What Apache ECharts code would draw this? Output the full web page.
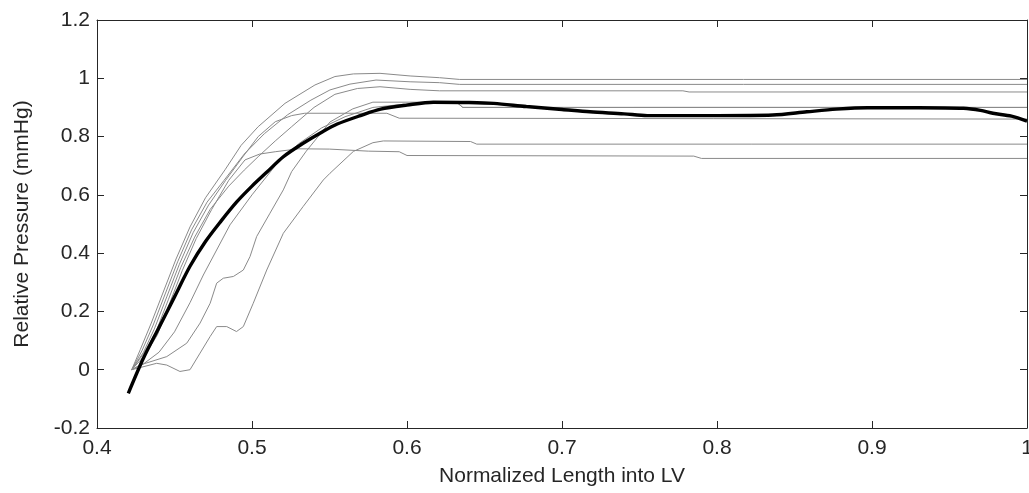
<!DOCTYPE html>
<html>
<head>
<meta charset="utf-8">
<script src="https://cdn.jsdelivr.net/npm/echarts@6/dist/echarts.min.js"></script>
<style>html,body{margin:0;padding:0;background:#fff;overflow:hidden}#c{width:1029px;height:493px}</style>
</head>
<body>
<div id="c"></div>
<script>
// Axis ticks
const xTicks = [0.4, 0.5, 0.6, 0.7, 0.8, 0.9, 1.0];
const yTicks = [-0.2, 0, 0.2, 0.4, 0.6, 0.8, 1.0, 1.2];

// Mean curve (thick black)
const meanCurve = [[0.4202,-0.081],[0.43,0.04],[0.44,0.145],[0.45,0.25],[0.46,0.355],[0.47,0.44],[0.48,0.51],[0.49,0.575],[0.50,0.63],[0.51,0.68],[0.52,0.73],[0.533,0.777],[0.545,0.815],[0.555,0.843],[0.57,0.872],[0.583,0.894],[0.60,0.908],[0.617,0.918],[0.64,0.917],[0.656,0.914],[0.677,0.903],[0.70,0.893],[0.718,0.885],[0.74,0.878],[0.755,0.872],[0.80,0.872],[0.836,0.874],[0.858,0.885],[0.877,0.894],[0.897,0.899],[0.93,0.899],[0.959,0.897],[0.97,0.89],[0.978,0.88],[0.99,0.87],[1.0,0.853]];

// Individual curves (thin gray)
const curveA = [[0.4224,0],[0.428,0.07],[0.435,0.16],[0.443,0.27],[0.451,0.38],[0.46,0.49],[0.47,0.59],[0.4826,0.686],[0.493,0.77],[0.504,0.834],[0.5213,0.914],[0.5406,0.977],[0.5535,1.006],[0.5654,1.015],[0.5826,1.017],[0.602,1.008],[0.621,1.002],[0.634,0.996],[1.0,0.996]];
const curveB = [[0.4224,0],[0.429,0.065],[0.436,0.15],[0.444,0.26],[0.452,0.37],[0.461,0.48],[0.471,0.575],[0.482,0.65],[0.495,0.74],[0.508,0.81],[0.523,0.875],[0.538,0.925],[0.5503,0.96],[0.5632,0.98],[0.58,0.994],[0.602,0.988],[0.621,0.985],[0.634,0.979],[1.0,0.979]];
const curveC = [[0.4224,0],[0.43,0.055],[0.438,0.13],[0.446,0.24],[0.454,0.35],[0.463,0.455],[0.473,0.55],[0.485,0.63],[0.495,0.685],[0.504,0.731],[0.515,0.785],[0.5256,0.834],[0.54,0.90],[0.5535,0.945],[0.568,0.965],[0.5826,0.971],[0.602,0.962],[0.621,0.957],[0.778,0.957],[0.782,0.953],[1.0,0.953]];
const curveD = [[0.4224,0],[0.4277,0.016],[0.445,0.045],[0.4579,0.091],[0.4665,0.16],[0.473,0.228],[0.4772,0.297],[0.4815,0.314],[0.488,0.32],[0.4944,0.342],[0.4987,0.388],[0.503,0.457],[0.5116,0.537],[0.5202,0.617],[0.5256,0.68],[0.535,0.75],[0.5503,0.85],[0.565,0.895],[0.578,0.918],[0.632,0.918],[0.636,0.90],[1.0,0.90]];
const curveE = [[0.4224,0],[0.43,0.06],[0.437,0.14],[0.445,0.25],[0.453,0.36],[0.462,0.47],[0.472,0.565],[0.483,0.65],[0.494,0.73],[0.504,0.80],[0.515,0.851],[0.5256,0.872],[0.534,0.88],[0.587,0.88],[0.595,0.863],[1.0,0.86]];
const curveF = [[0.4224,0],[0.4385,0.022],[0.445,0.016],[0.4535,-0.006],[0.46,0.0],[0.4665,0.057],[0.473,0.114],[0.4772,0.148],[0.4837,0.148],[0.49,0.131],[0.4944,0.148],[0.5008,0.228],[0.5095,0.342],[0.5202,0.468],[0.533,0.56],[0.546,0.651],[0.5503,0.674],[0.5654,0.749],[0.578,0.779],[0.5847,0.785],[0.641,0.783],[0.645,0.774],[1.0,0.774]];
const curveG = [[0.4224,0],[0.431,0.05],[0.439,0.12],[0.447,0.23],[0.455,0.34],[0.464,0.45],[0.474,0.55],[0.485,0.65],[0.4955,0.72],[0.505,0.74],[0.515,0.748],[0.53,0.758],[0.55,0.757],[0.575,0.75],[0.595,0.748],[0.6,0.735],[0.785,0.733],[0.79,0.725],[1.0,0.725]];
const curveH = [[0.4224,0],[0.43,0.02],[0.44,0.06],[0.45,0.13],[0.46,0.23],[0.4686,0.325],[0.4858,0.497],[0.50,0.60],[0.515,0.70],[0.53,0.775],[0.545,0.83],[0.56,0.868],[0.578,0.9],[0.60,0.912],[0.632,0.918],[0.636,0.90],[1.0,0.90]];

const grayCurves = [curveA, curveB, curveC, curveD, curveE, curveF, curveG, curveH];

const chart = echarts.init(document.getElementById('c'), null, {renderer: 'canvas'});
const font = 'Arial, "Liberation Sans", sans-serif';
const txt = '#262626';

const series = grayCurves.map(c => ({
  type: 'line', data: c, showSymbol: false, symbol: 'none', smooth: false,
  lineStyle: {color: '#8a8a8a', width: 1}, z: 2
}));
series.push({
  type: 'line', data: meanCurve, showSymbol: false, symbol: 'none', smooth: 0.3,
  lineStyle: {color: '#000', width: 3.4}, z: 3
});

chart.setOption({
  animation: false,
  backgroundColor: '#fff',
  grid: {left: 97, right: 2, top: 20, bottom: 65, containLabel: false, outerBoundsMode: 'none'},
  xAxis: [{
    type: 'value', min: xTicks[0], max: xTicks[xTicks.length-1], interval: 0.1,
    name: 'Normalized Length into LV', nameLocation: 'middle', nameGap: 38,
    nameTextStyle: {fontFamily: font, fontSize: 21, color: txt},
    axisLine: {show: true, onZero: false, lineStyle: {color: '#262626', width: 1}},
    axisTick: {show: true, inside: true, length: 7, lineStyle: {color: '#262626'}},
    axisLabel: {fontFamily: font, fontSize: 21, color: txt, margin: 10},
    splitLine: {show: false}
  }, {
    type: 'value', position: 'top', min: xTicks[0], max: xTicks[xTicks.length-1], interval: 0.1,
    axisLine: {show: true, onZero: false, lineStyle: {color: '#262626', width: 1}},
    axisTick: {show: true, inside: true, length: 7, lineStyle: {color: '#262626'}},
    axisLabel: {show: false}, splitLine: {show: false}
  }],
  yAxis: [{
    type: 'value', min: yTicks[0], max: yTicks[yTicks.length-1], interval: 0.2,
    name: 'Relative Pressure (mmHg)', nameLocation: 'middle', nameGap: 64,
    nameTextStyle: {fontFamily: font, fontSize: 21, color: txt},
    axisLine: {show: true, onZero: false, lineStyle: {color: '#262626', width: 1}},
    axisTick: {show: true, inside: true, length: 7, lineStyle: {color: '#262626'}},
    axisLabel: {fontFamily: font, fontSize: 21, color: txt, margin: 7,
      formatter: v => String(Math.round(v*10)/10)},
    splitLine: {show: false}
  }, {
    type: 'value', position: 'right', min: yTicks[0], max: yTicks[yTicks.length-1], interval: 0.2,
    axisLine: {show: true, onZero: false, lineStyle: {color: '#262626', width: 1}},
    axisTick: {show: true, inside: true, length: 7, lineStyle: {color: '#262626'}},
    axisLabel: {show: false}, splitLine: {show: false}
  }],
  series: series
});
</script>
</body>
</html>
